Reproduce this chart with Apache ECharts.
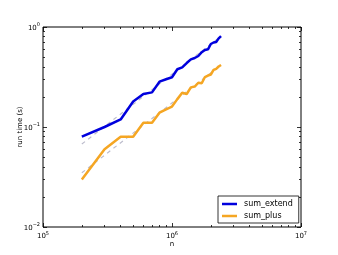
<!DOCTYPE html>
<html><head><meta charset="utf-8">
<script src="https://cdn.jsdelivr.net/npm/echarts@6/dist/echarts.min.js"></script>
<style>html,body{margin:0;padding:0;background:#fff}#c{width:338px;height:255px}</style>
</head><body><div id="c"></div>
<script>
var nValues = [2e5,3e5,4e5,5e5,6e5,7e5,8e5,9e5,1e6,1.1e6,1.2e6,1.3e6,1.4e6,1.5e6,1.6e6,1.7e6,1.8e6,1.9e6,2.0e6,2.1e6,2.2e6,2.3e6,2.4e6];
var sumExtend = [0.080,0.100,0.119,0.180,0.214,0.222,0.284,0.300,0.314,0.378,0.395,0.436,0.475,0.490,0.513,0.560,0.589,0.598,0.676,0.700,0.708,0.770,0.810];
var sumPlus = [0.0299,0.060,0.080,0.080,0.110,0.110,0.139,0.150,0.160,0.190,0.220,0.214,0.249,0.254,0.277,0.274,0.316,0.327,0.335,0.372,0.382,0.403,0.417];
var fitN = [2e5, 2.4e6];
var fitExtend = [0.0675, 0.81];
var fitPlus = [0.0348, 0.417];
var xTickExponents = [5,6,7];
var yTickExponents = [0,-1,-2];
var xMinorTicks = [2e5,3e5,4e5,5e5,6e5,7e5,8e5,9e5,2e6,3e6,4e6,5e6,6e6,7e6,8e6,9e6];
var yMinorTicks = [0.02,0.03,0.04,0.05,0.06,0.07,0.08,0.09,0.2,0.3,0.4,0.5,0.6,0.7,0.8,0.9];

function pairs(xs, ys){ return xs.map(function(x,i){return [x, ys[i]];}); }
function supLabel(v){
  var e = Math.round(Math.log10(v));
  return '{b|10}{s|' + String(e).replace('-', '\u2212') + '}';
}
var rich = {
  b:{fontSize:7, fontFamily:'DejaVu Sans', color:'#000', verticalAlign:'bottom', lineHeight:9},
  s:{fontSize:5, fontFamily:'DejaVu Sans', color:'#000', verticalAlign:'top', padding:[0,0,5,0], lineHeight:9}
};
var ff = 'DejaVu Sans';
function xAx(pos, custom, len, labels){
  return {type:'log', logBase:10, min:1e5, max:1e7, position:pos, gridIndex:0,
    axisLine:{show:false}, splitLine:{show:false},
    axisTick:{show:true, inside:true, length:len, lineStyle:{color:'#000', width:0.8}, customValues: custom},
    axisLabel:{show:labels, margin:4, formatter:supLabel, rich:rich, customValues: custom}
  };
}
function yAx(pos, custom, len, labels){
  return {type:'log', logBase:10, min:0.01, max:1, position:pos, gridIndex:0,
    axisLine:{show:false}, splitLine:{show:false},
    axisTick:{show:true, inside:true, length:len, lineStyle:{color:'#000', width:0.8}, customValues: custom},
    axisLabel:{show:labels, margin:3, formatter:supLabel, rich:rich, customValues: custom}
  };
}
var xMaj = xTickExponents.map(function(e){return Math.pow(10,e);});
var yMaj = yTickExponents.map(function(e){return Math.pow(10,e);});
var chart = echarts.init(document.getElementById('c'), null, {renderer:'canvas'});
var xa0 = xAx('bottom', xMaj, 4, true);
xa0.name = 'n'; xa0.nameLocation = 'middle'; xa0.nameGap = 14; xa0.nameMoveOverlap = false;
xa0.nameTextStyle = {fontSize:7, fontFamily:ff, color:'#000'};
var ya0 = yAx('left', yMaj, 4, true);
ya0.name = 'run time (s)'; ya0.nameLocation = 'middle'; ya0.nameGap = 19; ya0.nameMoveOverlap = false;
ya0.nameTextStyle = {fontSize:7, fontFamily:ff, color:'#000'};
chart.setOption({
  animation:false,
  backgroundColor:'#fff',
  grid:{left:43, top:27, right:37, bottom:28, show:true, borderColor:'#000', borderWidth:1, backgroundColor:'transparent'},
  xAxis:[xa0, xAx('bottom', xMinorTicks, 2, false), xAx('top', xMaj, 4, false), xAx('top', xMinorTicks, 2, false)],
  yAxis:[ya0, yAx('left', yMinorTicks, 2, false), yAx('right', yMaj, 4, false), yAx('right', yMinorTicks, 2, false)],
  legend:{
    data:['sum_extend','sum_plus'], orient:'vertical', left:218, top:196,
    backgroundColor:'#fff', borderColor:'#000', borderWidth:0.8, borderRadius:0,
    padding:[4,6,3,4], itemGap:4, itemWidth:15, itemHeight:2.5, icon:'rect',
    textStyle:{fontSize:8, fontFamily:ff, color:'#000', padding:[0,0,0,2]}
  },
  series:[
    {name:'fit_extend', type:'line', data:pairs(fitN, fitExtend), showSymbol:false, symbol:'none',
      lineStyle:{color:'#bcbccc', width:1.2, type:[4,4]}, z:1, silent:true},
    {name:'fit_plus', type:'line', data:pairs(fitN, fitPlus), showSymbol:false, symbol:'none',
      lineStyle:{color:'#bcbccc', width:1.2, type:[4,4]}, z:1, silent:true},
    {name:'sum_extend', type:'line', data:pairs(nValues, sumExtend), showSymbol:false, symbol:'none',
      itemStyle:{color:'#0000dd'}, lineStyle:{color:'#0000dd', width:2.5}, z:3},
    {name:'sum_plus', type:'line', data:pairs(nValues, sumPlus), showSymbol:false, symbol:'none',
      itemStyle:{color:'#f5a623'}, lineStyle:{color:'#f5a623', width:2.5}, z:3}
  ]
});
</script></body></html>
